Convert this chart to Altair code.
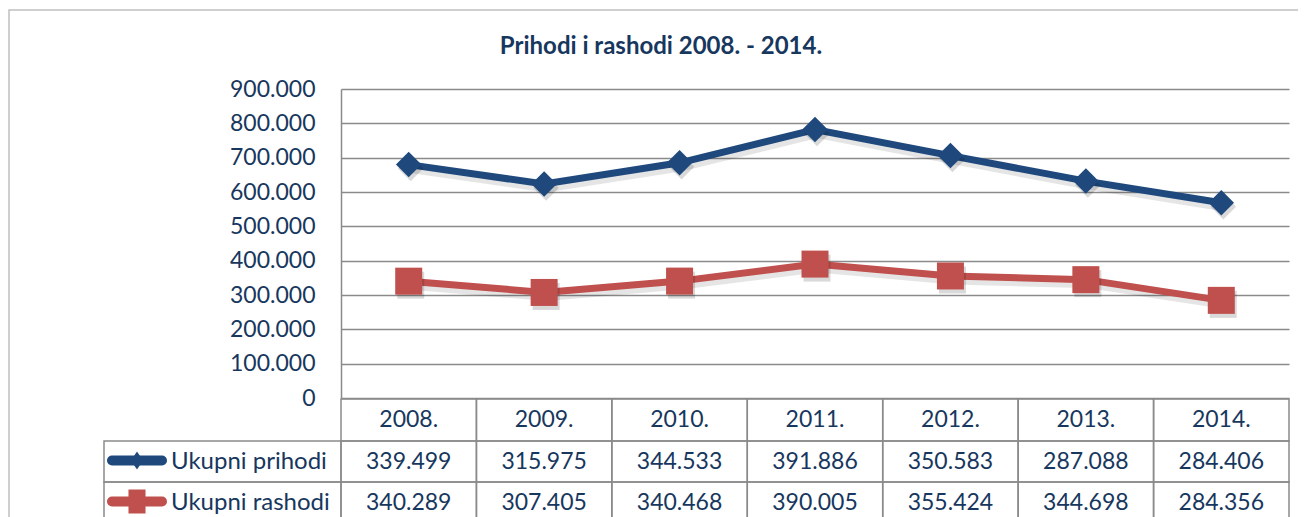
import altair as alt
import pandas as pd

# ---------------- data ----------------
years = ["2008.", "2009.", "2010.", "2011.", "2012.", "2013.", "2014."]
prihodi = [339499, 315975, 344533, 391886, 350583, 287088, 284406]
rashodi = [340289, 307405, 340468, 390005, 355424, 344698, 284356]
series_names = ["Ukupni prihodi", "Ukupni rashodi"]
stack_order = [1, 0]          # rashodi at the bottom, prihodi stacked on top
y_ticks = [0, 100000, 200000, 300000, 400000, 500000, 600000, 700000, 800000, 900000]
title_text = "Prihodi i rashodi 2008. - 2014."

# ---------------- style ----------------
BLUE = "#1F497D"
RED = "#C0504D"
TXT = "#17375E"
GRID = "#8A8A8A"
FONT = "Lato"
FS = 23

W, H = 948, 309

long_df = pd.DataFrame({
    "year": years * 2,
    "series": [series_names[0]] * len(years) + [series_names[1]] * len(years),
    "value": prihodi + rashodi,
    "ord": [stack_order[0]] * len(years) + [stack_order[1]] * len(years),
})
wide_df = pd.DataFrame({"year": years, "prihodi": prihodi, "rashodi": rashodi})
legend_df = pd.DataFrame({"series": series_names})

fmt = "replace(format({}, ','), ',', '.')"

xscale = alt.Scale(type="band", domain=years, paddingInner=0, paddingOuter=0)
xenc = alt.X("year:N", sort=years, scale=xscale, axis=None, bandPosition=0.5)
xenc_rect = alt.X("year:N", sort=years, scale=xscale, axis=None)
color = alt.Color("series:N", scale=alt.Scale(domain=series_names, range=[BLUE, RED]), legend=None)
shape = alt.Shape("series:N", scale=alt.Scale(domain=series_names, range=["diamond", "square"]), legend=None)
size = alt.Size("series:N", scale=alt.Scale(domain=series_names, range=[650, 729]), legend=None)

# legend-key markers are drawn taller than wide, as in the spreadsheet legend
legend_shape = alt.Shape("series:N", scale=alt.Scale(
    domain=series_names,
    range=["M-0.67,0L0,-1L0.67,0L0,1Z", "M-0.71,-1L0.71,-1L0.71,1L-0.71,1Z"]), legend=None)
legend_size = alt.Size("series:N", scale=alt.Scale(domain=series_names, range=[324, 576]), legend=None)

yenc = alt.Y(
    "y1:Q",
    scale=alt.Scale(domain=[0, 900000], nice=False, zero=True),
    axis=alt.Axis(
        values=y_ticks,
        labelExpr=fmt.format("datum.value"),
        grid=True, gridColor=GRID, gridWidth=1.5,
        domain=True, domainColor=GRID, domainWidth=1.5,
        ticks=False, labelPadding=26,
        labelFont=FONT, labelFontSize=FS, labelColor=TXT,
        title=None,
    ),
)

stacked = alt.Chart(long_df).transform_stack(
    stack="value", groupby=["year"], as_=["y0", "y1"],
    sort=[alt.SortField("ord", order="ascending")],
)

shadow_line = stacked.mark_line(color="#000000", opacity=0.10, strokeWidth=9, xOffset=2, yOffset=4).encode(
    x=xenc, y=yenc, detail="series:N")
lines = stacked.mark_line(strokeWidth=7).encode(x=xenc, y=yenc, color=color)
shadow_pts = stacked.mark_point(filled=True, color="#000000", opacity=0.15, xOffset=2, yOffset=4).encode(
    x=xenc, y=yenc, shape=shape, size=size)
points = stacked.mark_point(filled=True, opacity=1).encode(
    x=xenc, y=yenc, color=color, shape=shape, size=size)

# ---------------- data table under the plot ----------------
rows = [
    ("datum.year", 310, 352),
    (fmt.format("datum.prihodi"), 352, 393),
    (fmt.format("datum.rashodi"), 393, 434),
]
table_layers = []
for expr, top, bot in rows:
    table_layers.append(
        alt.Chart(wide_df).mark_rect(fillOpacity=0, stroke=GRID, strokeWidth=1.5).encode(
            x=xenc_rect, y=alt.value(top), y2=alt.value(bot))
    )
    table_layers.append(
        alt.Chart(wide_df).transform_calculate(label=expr).mark_text(
            font=FONT, fontSize=FS, color=TXT, baseline="middle", align="center").encode(
            x=xenc, y=alt.value((top + bot) / 2 + 0), text="label:N")
    )

legend_layers = []
for name, (_, top, bot) in zip(series_names, rows[1:]):
    cy = (top + bot) / 2 - 1
    src = alt.Chart(legend_df).transform_filter(alt.datum.series == name)
    legend_layers.append(src.mark_rect(fillOpacity=0, stroke=GRID, strokeWidth=1.5).encode(
        x=alt.value(-237), x2=alt.value(0), y=alt.value(top), y2=alt.value(bot)))
    legend_layers.append(src.mark_rule(strokeWidth=10, strokeCap="round").encode(
        x=alt.value(-229), x2=alt.value(-179), y=alt.value(cy), color=color))
    legend_layers.append(src.mark_point(filled=True, opacity=1).encode(
        x=alt.value(-204), y=alt.value(cy), color=color, shape=legend_shape, size=legend_size))
    legend_layers.append(src.mark_text(font=FONT, fontSize=24, color=TXT, align="left", baseline="middle").encode(
        x=alt.value(-170), y=alt.value(cy + 1), text="series:N"))

title_df = pd.DataFrame({"t": [title_text]})
title = alt.Chart(title_df).mark_text(font=FONT, fontSize=24, fontWeight="bold", color=TXT,
                                      align="center", baseline="middle").encode(
    x=alt.value(320), y=alt.value(-42), text="t:N")

border = alt.Chart(title_df).mark_rect(fillOpacity=0, stroke="#C0C0C0", strokeWidth=1.5).encode(
    x=alt.value(-332), x2=alt.value(990), y=alt.value(-79), y2=alt.value(540))

chart = alt.layer(
    border, title, *table_layers, *legend_layers, shadow_line, lines, shadow_pts, points
).resolve_scale(size="independent", shape="independent").properties(
    width=W, height=H,
    padding={"left": 333, "top": 81, "right": 9, "bottom": 119},
    autosize="none",
    background="white",
).configure_view(stroke=None)

chart.save("out.html", embed_options={"renderer": "svg", "actions": False})
